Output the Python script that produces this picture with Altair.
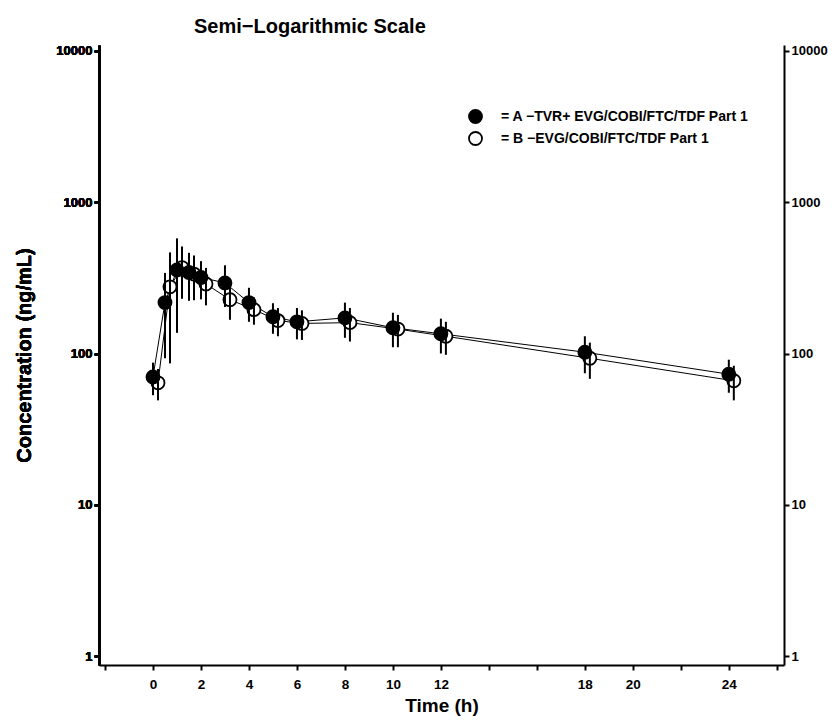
import altair as alt
import pandas as pd

times = [0, 0.5, 1, 1.5, 2, 3, 4, 5, 6, 8, 10, 12, 18, 24]
a_mean = [70, 217, 357, 343, 318, 293, 217, 175, 162, 172, 148, 135, 102, 73]
a_sd = [17, 124, 220, 120, 90, 90, 55, 40, 38, 45, 38, 35, 28, 18]
b_mean = [64, 276, 370, 335, 288, 227, 195, 165, 158, 160, 145, 130, 93, 66]
b_sd = [15, 190, 140, 110, 80, 60, 40, 35, 35, 40, 35, 32, 25, 17]

label_a = "= A \u2212TVR+ EVG/COBI/FTC/TDF Part 1"
label_b = "= B \u2212EVG/COBI/FTC/TDF Part 1"

x_ticks = list(range(-2, 27, 2))
x_labelled = [0, 2, 4, 6, 8, 10, 12, 18, 20, 24]
y_ticks = [1, 10, 100, 1000, 10000]

def frame(label, means, sds):
    return pd.DataFrame({
        "time": times,
        "conc": means,
        "lo": [m - s for m, s in zip(means, sds)],
        "hi": [m + s for m, s in zip(means, sds)],
        "series": label,
    })

df_a = frame(label_a, a_mean, a_sd)
df_b = frame(label_b, b_mean, b_sd)

FONT = "Liberation Sans"

x_enc = alt.X(
    "time:Q",
    scale=alt.Scale(domain=[-2.25, 26.3], nice=False, zero=False),
    axis=alt.Axis(
        values=x_ticks,
        labelExpr="indexof(" + str(x_labelled) + ", datum.value) >= 0 ? datum.label : ''",
        title="Time (h)",
        labelPadding=7,
        titlePadding=6,
        tickSize=5,
        labelFontSize=13.5,
        titleFontSize=19,
    ),
)
y_scale = alt.Scale(type="log", domain=[0.872, 10956], nice=False)
left_axis = alt.Axis(values=y_ticks, format="d", title="Concentration (ng/mL)", orient="left",
                     titlePadding=21, labelPadding=2, tickSize=5)
right_axis_def = alt.Axis(values=y_ticks, format="d", title=None, orient="right",
                          labelPadding=2, tickSize=5)
y_left = alt.Y("conc:Q", scale=y_scale, axis=left_axis)
y_right = alt.Y("conc:Q", scale=y_scale, axis=right_axis_def)

fill_scale = alt.Scale(domain=[label_a, label_b], range=["black", "white"])
legend = alt.Legend(
    title=None, orient="none", legendX=369, legendY=64,
    labelFont=FONT, labelFontSize=14, labelFontWeight="bold", labelLimit=0,
    symbolSize=170, symbolStrokeColor="black", symbolStrokeWidth=1.8,
    symbolType="circle", rowPadding=1, labelOffset=18,
)

def series_layers(df, offset):
    base = alt.Chart(df).encode(x=x_enc, y=y_left)
    line = base.mark_line(color="black", strokeWidth=1, xOffset=offset)
    pts = base.mark_point(shape="circle", size=170, filled=True, opacity=1,
                          stroke="black", strokeWidth=1.8, xOffset=offset).encode(
        fill=alt.Fill("series:N", scale=fill_scale, legend=legend))
    bars = base.mark_rule(color="black", strokeWidth=2, xOffset=offset).encode(
        y=alt.Y("lo:Q", scale=y_scale, axis=left_axis), y2="hi:Q")
    return line, pts, bars

la, pa, ba = series_layers(df_a, 0)
lb, pb, bb = series_layers(df_b, 5)

right_axis = alt.Chart(df_a).mark_point(opacity=0).encode(x=x_enc, y=y_right)

chart = alt.layer(la, lb, pb, pa, bb, ba, right_axis).properties(
    width=685, height=620,
    title=alt.TitleParams("Semi\u2212Logarithmic Scale", anchor="start", frame="group", dx=95,
                          font=FONT, fontSize=20, fontWeight="bold", offset=8),
    autosize=alt.AutoSizeParams(type="none"),
    padding={"left": 91, "top": 37, "right": 44, "bottom": 52},
).configure_view(stroke=None).configure_axis(
    grid=False, domainColor="black", domainWidth=2, tickColor="black", tickWidth=2,
    labelFont=FONT, labelFontSize=13, labelFontWeight="bold", labelColor="black",
    titleFont=FONT, titleFontSize=20, titleFontWeight="bold", titleColor="black",
)

chart.save("out.html", embed_options={"renderer": "svg", "actions": False})
